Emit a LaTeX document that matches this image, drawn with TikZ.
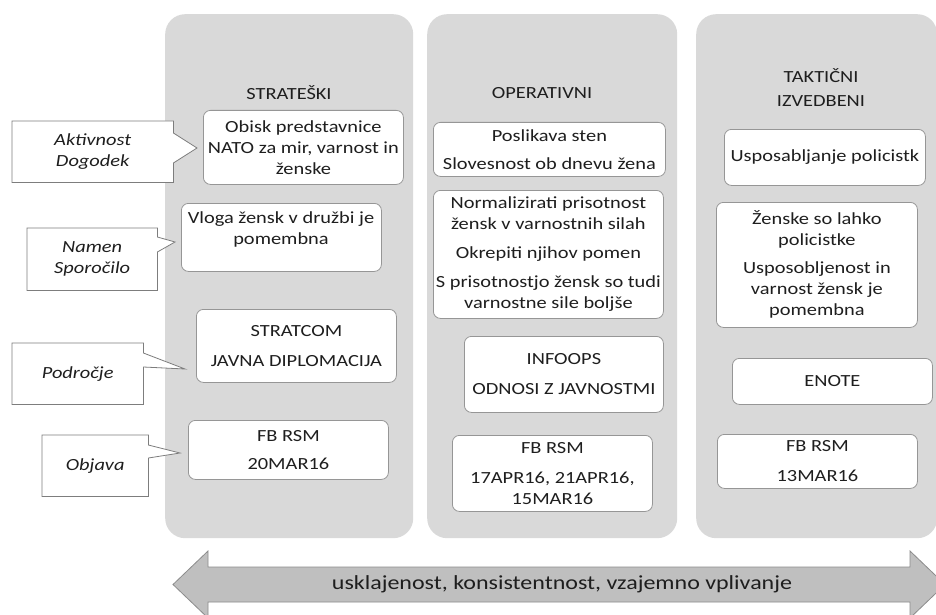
\documentclass[tikz,border=0pt]{standalone}
\usepackage{fontspec}
\setmainfont[FakeStretch=1.2]{Carlito}
\usetikzlibrary{calc,backgrounds}
\definecolor{panelgray}{RGB}{217,217,217}
\definecolor{boxline}{RGB}{150,150,150}
\definecolor{callline}{RGB}{125,125,125}
\definecolor{arrowfill}{RGB}{191,191,191}
\definecolor{arrowline}{RGB}{140,140,140}
\definecolor{txtcol}{RGB}{30,30,30}
\newcommand\diabody{\fontsize{17}{21}\selectfont}
\newcommand\diabig{\fontsize{20}{24}\selectfont}
\begin{document}
\begin{tikzpicture}[x=1pt,y=-1pt,
  panel/.style={fill=panelgray, draw=none, rounded corners=20pt, anchor=north west, inner sep=0pt},
  wbox/.style={fill=white, draw=boxline, line width=0.8pt, rounded corners=7pt, anchor=north west,
               inner sep=0pt, align=center, text=txtcol, font=\diabody},
  plaintxt/.style={inner sep=0pt, align=center, text=txtcol, font=\diabody},
  calltxt/.style={inner sep=0pt, anchor=north west, align=center, text=txtcol, font=\diabody\itshape},
  callline/.style={fill=white, draw=callline, line width=0.8pt},
  bigarrow/.style={fill=arrowfill, draw=arrowline, line width=0.8pt}
]
\useasboundingbox (0,0) rectangle (936,615);
\clip (0,0) rectangle (936,615);

% panels
\begin{scope}[on background layer]
\fill[white] (0,0) rectangle (936,615);
\node[panel, minimum width=248pt, minimum height=524pt] (p1) at (165,14) {};
\node[panel, minimum width=250pt, minimum height=524pt] (p2) at (427,14) {};
\node[panel, minimum width=241pt, minimum height=524pt] (p3) at (696,14) {};
\end{scope}

% headers
\node[plaintxt] (h1) at (289,93) {STRATEŠKI};
\node[plaintxt] (h2) at (542,93) {OPERATIVNI};
\node[plaintxt] (h3) at (821,88) {TAKTIČNI\\[3pt]IZVEDBENI};

% column 1
\node[wbox, minimum width=200pt, minimum height=74pt] (b11) at (203,110) {Obisk predstavnice\\NATO za mir, varnost in\\ženske};
\node[wbox, minimum width=200pt, minimum height=68pt] (b12) at (181,203) {};
\node[plaintxt] (b12t) at (281,229) {Vloga žensk v družbi je\\pomembna};
\node[wbox, minimum width=200pt, minimum height=73pt] (b13) at (196,309) {STRATCOM\\[9pt]JAVNA DIPLOMACIJA};
\node[wbox, minimum width=200pt, minimum height=59pt] (b14) at (188,420) {FB RSM\\[7pt]20MAR16};

% column 2
\node[wbox, minimum width=232pt, minimum height=54pt] (b21) at (433,122) {Poslikava sten\\[7pt]Slovesnost ob dnevu žena};
\node[wbox, minimum width=230pt, minimum height=128pt] (b22) at (433,190) {Normalizirati prisotnost\\žensk v varnostnih silah\\[8pt]Okrepiti njihov pomen\\[8pt]S prisotnostjo žensk so tudi\\varnostne sile boljše};
\node[wbox, minimum width=199pt, minimum height=76pt] (b23) at (464,336) {INFOOPS\\[9pt]ODNOSI Z JAVNOSTMI};
\node[wbox, minimum width=200pt, minimum height=76pt] (b24) at (452,435) {FB RSM\\[9pt]17APR16, 21APR16,\\15MAR16};

% column 3
\node[wbox, minimum width=201pt, minimum height=56pt] (b31) at (724,129) {Usposabljanje policistk};
\node[wbox, minimum width=201pt, minimum height=125pt] (b32) at (716,202) {Ženske so lahko\\policistke\\[7pt]Usposobljenost in\\varnost žensk je\\pomembna};
\node[wbox, minimum width=200pt, minimum height=46pt] (b33) at (732,358) {ENOTE};
\node[wbox, minimum width=200pt, minimum height=54pt] (b34) at (717,434) {FB RSM\\[9pt]13MAR16};

% callouts
\node[calltxt, minimum width=161pt, minimum height=61pt] (c1) at (12,121) {Aktivnost\\Dogodek};
\node[calltxt, minimum width=130pt, minimum height=62pt] (c2) at (27,228) {Namen\\Sporočilo};
\node[calltxt, minimum width=131pt, minimum height=61pt] (c3) at (12,343) {Področje};
\node[calltxt, minimum width=106pt, minimum height=61pt] (c4) at (42,435) {Objava};
\coordinate (t1) at (197,148);
\coordinate (t2) at (175,242);
\coordinate (t3) at (185,369);
\coordinate (t4) at (180,453);
\begin{scope}[on background layer]
\draw[callline] (c1.north west) -- (c1.north east) -- ($(c1.north east)+(0,12)$) -- (t1) -- ($(c1.north east)+(0,42)$) -- (c1.south east) -- (c1.south west) -- cycle;
\draw[callline] (c2.north west) -- (c2.north east) -- ($(c2.north east)+(0,9)$) -- (t2) -- ($(c2.north east)+(0,24)$) -- (c2.south east) -- (c2.south west) -- cycle;
\draw[callline] (c3.north west) -- (c3.north east) -- ($(c3.north east)+(0,10)$) -- (t3) -- ($(c3.north east)+(0,24)$) -- (c3.south east) -- (c3.south west) -- cycle;
\draw[callline] (c4.north west) -- (c4.north east) -- ($(c4.north east)+(0,10)$) -- (t4) -- ($(c4.north east)+(0,23)$) -- (c4.south east) -- (c4.south west) -- cycle;
\end{scope}

% bottom double arrow
\draw[bigarrow] (173,584.5) -- (208,551) -- (208,567) -- (910,567) -- (910,551) -- (945,584.5)
  -- (910,618) -- (910,602) -- (208,602) -- (208,618) -- cycle;
\node[inner sep=0pt, text=txtcol, font=\diabig] (ar) at (562,584.5) {usklajenost, konsistentnost, vzajemno vplivanje};
\end{tikzpicture}
\end{document}
